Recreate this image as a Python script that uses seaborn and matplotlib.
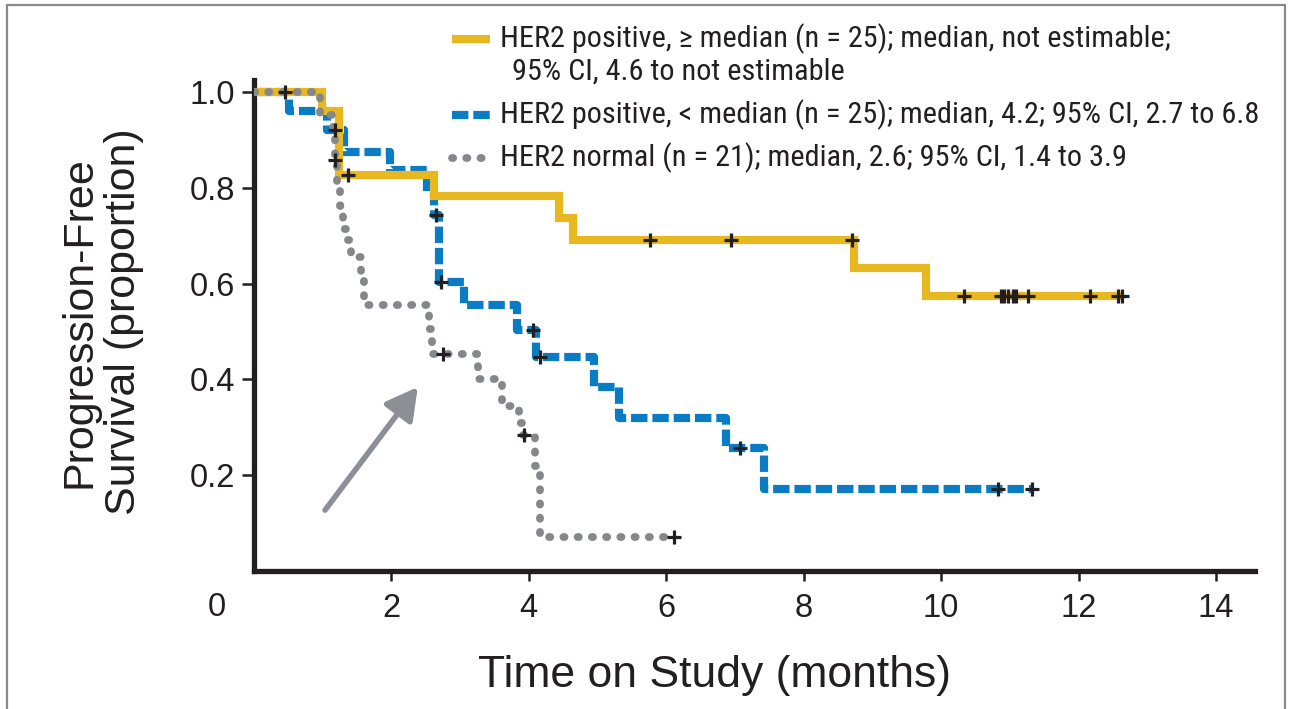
import numpy as np
import pandas as pd
import matplotlib
matplotlib.use("Agg")
import matplotlib.pyplot as plt
from matplotlib import font_manager as fm
from matplotlib.lines import Line2D
from matplotlib.patches import Rectangle
import seaborn as sns

# ---------------- data ----------------
yel_t = [0, 1.00, 1.24, 2.62, 4.44, 4.64, 8.73, 9.78]
yel_s = [1.0, 0.96, 0.827, 0.783, 0.737, 0.691, 0.633, 0.574]
yel_end = 12.65
yel_cens = [1.37, 5.76, 6.94, 8.70, 10.33, 10.87, 10.92, 10.97, 11.05, 11.09, 11.27, 12.17, 12.58, 12.63]

blu_t = [0, 0.51, 1.07, 1.31, 1.99, 2.53, 2.62, 2.70, 3.06, 3.83, 4.11, 4.95, 5.31, 6.87, 7.42]
blu_s = [1.0, 0.96, 0.92, 0.875, 0.837, 0.79, 0.743, 0.603, 0.555, 0.503, 0.447, 0.384, 0.319, 0.257, 0.171]
blu_end = 11.32
blu_cens = [0.46, 1.19, 2.66, 2.73, 4.07, 4.17, 7.07, 10.83, 11.32]

gry_t = [0, 0.97, 1.15, 1.18, 1.22, 1.26, 1.30, 1.34, 1.42, 1.56, 1.60, 2.55, 2.60, 3.26, 3.62, 3.86, 3.90, 4.10, 4.17]
gry_s = [1.0, 0.952, 0.905, 0.857, 0.81, 0.762, 0.714, 0.69, 0.655, 0.605, 0.555, 0.505, 0.453, 0.40, 0.345, 0.31, 0.284, 0.22, 0.071]
gry_end = 6.11
gry_cens = [1.19, 2.75, 3.93, 6.11]

labels = [
    "HER2 positive, \u2265 median (n = 25); median, not estimable;",
    "HER2 positive, < median (n = 25); median, 4.2; 95% CI, 2.7 to 6.8",
    "HER2 normal (n = 21); median, 2.6; 95% CI, 1.4 to 3.9",
]
label1_line2 = "95% CI, 4.6 to not estimable"
y_ticks = [0.2, 0.4, 0.6, 0.8, 1.0]
x_ticks = [2, 4, 6, 8, 10, 12, 14]

YEL = "#e7b81f"
BLU = "#0a7cc3"
GRY = "#85878b"
ARR = "#8c8f96"
INK = "#231f20"

# ---------------- fonts ----------------
sns.set_theme(style="white")
names = sorted({f.name for f in fm.fontManager.ttflist})
cond = None
for pref in ["Liberation Sans Narrow", "Roboto Condensed", "Noto Sans Condensed",
             "Open Sans Condensed", "DejaVu Sans Condensed", "Arial Narrow"]:
    if pref in names:
        cond = pref
        break
if cond is None:
    for n in names:
        if ("Condensed" in n or "Narrow" in n) and "Mono" not in n and "Serif" not in n:
            cond = n
            break
if cond is not None:
    leg_font, leg_size = cond, 21.8
else:
    leg_font, leg_size = "Liberation Sans", 18
plt.rcParams["font.family"] = ["Liberation Sans", "DejaVu Sans"]


def km_frame(t, s, end):
    return pd.DataFrame({"time": list(t) + [end], "surv": list(s) + [s[-1]]})


def cens_frame(t, s, c):
    t = np.asarray(t)
    s = np.asarray(s)
    idx = np.searchsorted(t, c, side="right") - 1
    return pd.DataFrame({"time": c, "surv": s[idx]})


W, H = 1291, 709
fig = plt.figure(figsize=(W / 100, H / 100), dpi=100)
ax_l, ax_r, ax_b, ax_t = 253.5, 1255, 571, 80
ax = fig.add_axes([ax_l / W, 1 - ax_b / H, (ax_r - ax_l) / W, (ax_b - ax_t) / H])

lw = 5.9
lw_g = 5.6
BLU_DASH = [2.0, 0.6]
GRY_DOT = [0.15, 1.68]
curves = [
    (blu_t, blu_s, blu_end, blu_cens, BLU, 2, lw),
    (yel_t, yel_s, yel_end, yel_cens, YEL, 3, lw),
    (gry_t, gry_s, gry_end, gry_cens, GRY, 4, lw_g),
]
lines = []
for t, s, end, c, col, z, w in curves:
    df = km_frame(t, s, end)
    sns.lineplot(data=df, x="time", y="surv", ax=ax, color=col,
                 drawstyle="steps-post", estimator=None, sort=False, zorder=z)
    ln = ax.lines[-1]
    ln.set_linewidth(w)
    lines.append(ln)

blu_line, yel_line, gry_line = lines
blu_line.set_dashes(BLU_DASH)
blu_line.set_dash_capstyle("butt")
gry_line.set_dashes(GRY_DOT)
gry_line.set_dash_capstyle("round")
yel_line.set_solid_capstyle("butt")
yel_line.set_solid_joinstyle("miter")

for t, s, end, c, col, z, w in curves:
    cf = cens_frame(t, s, c)
    sns.scatterplot(data=cf, x="time", y="surv", ax=ax, marker="+", s=100,
                    color=INK, linewidth=2.3, zorder=6, legend=False)

# arrow
ax.annotate("", xy=(2.39, 0.384), xytext=(1.04, 0.127),
            arrowprops=dict(arrowstyle="-|>,head_length=0.6,head_width=0.33",
                            color=ARR, lw=4, mutation_scale=32, shrinkA=0, shrinkB=0))

# axes styling
ax.set_xlim(0, (ax_r - ax_l) / 68.75)
ax.set_ylim(0, (ax_b - ax_t) / 479.0)
ax.set_xticks(x_ticks)
ax.set_xticklabels([str(v) for v in x_ticks])
ax.set_yticks(y_ticks)
ax.set_yticklabels([f"{v:.1f}" for v in y_ticks])
for side in ["top", "right"]:
    ax.spines[side].set_visible(False)
for side in ["left", "bottom"]:
    ax.spines[side].set_linewidth(3.8)
    ax.spines[side].set_color(INK)
    ax.spines[side].set_capstyle("projecting")
ax.tick_params(axis="y", direction="out", length=9, width=1.8, color=INK,
               labelsize=23.5, pad=4, labelcolor=INK, left=True)
ax.tick_params(axis="x", direction="out", length=7, width=1.8, color=INK,
               labelsize=23.5, pad=9, labelcolor=INK, bottom=True)
ax.grid(False)
ax.set_xlabel("Time on Study (months)", fontsize=32, color=INK)
ax.xaxis.set_label_coords((715 - ax_l) / (ax_r - ax_l), -(676 - ax_b) / (ax_b - ax_t))
ax.xaxis.label.set_va("center")
ax.set_ylabel("Progression-Free\nSurvival (proportion)", fontsize=31, color=INK,
              linespacing=1.15)
ax.yaxis.set_label_coords(-(ax_l - 102) / (ax_r - ax_l), (ax_b - 322) / (ax_b - ax_t))
ax.yaxis.label.set_va("center")

# origin "0" label
fig.text(217 / W, 1 - 607 / H, "0", fontsize=23.5, color=INK, ha="center", va="center")

# legend (manual, figure coordinates)
leg_rows = [39, 115, 158]
for yrow, col, ls, cap, w, lab in zip(leg_rows, [YEL, BLU, GRY],
                                      ["-", (0, BLU_DASH), (0, GRY_DOT)],
                                      ["butt", "butt", "round"], [lw, lw, lw_g], labels):
    ln = Line2D([452 / W, 490 / W], [1 - yrow / H, 1 - yrow / H], transform=fig.transFigure,
                color=col, lw=w, linestyle=ls)
    ln.set_dash_capstyle(cap)
    ln.set_solid_capstyle("butt")
    fig.add_artist(ln)
    fig.text(500 / W, 1 - yrow / H, lab, fontsize=leg_size, family=[leg_font, "DejaVu Sans"],
             color=INK, ha="left", va="center")
fig.text(512 / W, 1 - 72 / H, label1_line2, fontsize=leg_size, family=[leg_font, "DejaVu Sans"],
         color=INK, ha="left", va="center")

# figure frame
fig.add_artist(Rectangle((7 / W, -0.05), (1285 - 7) / W, 1.05 - 5 / H, transform=fig.transFigure,
                         fill=False, edgecolor="#8a8a8a", lw=1.6))

fig.savefig("out.png", dpi=100)
